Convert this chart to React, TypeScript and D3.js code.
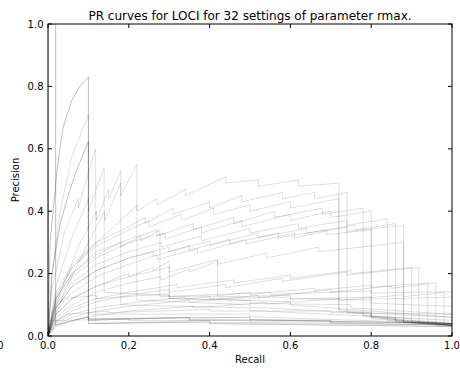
import React from "react";
import * as d3 from "d3";

type Pt = [number, number];

// ---- Tick labels ----
const xTicks = [0, 0.2, 0.4, 0.6, 0.8, 1.0];
const yTicks = [0, 0.2, 0.4, 0.6, 0.8, 1.0];

// ---- Curves with early drop (recall, precision) ----
const a1: Pt[] = [[0,0],[0,1],[0.019,1],[0.019,0.035],[0.1,0.062],[0.1,0.05],[0.35,0.06],[0.35,0.052],[0.7,0.05],[0.7,0.042],[1,0.035]];
const a2: Pt[] = [[0,0],[0.005,0.3],[0.023,0.54],[0.037,0.667],[0.059,0.756],[0.079,0.8],[0.1,0.83],[0.1,0.04],[0.4,0.045],[0.4,0.04],[1,0.03]];
const a3: Pt[] = [[0,0],[0.01,0.2],[0.03,0.4],[0.06,0.58],[0.1,0.71],[0.1,0.07],[0.5,0.07],[0.5,0.062],[1,0.04]];
const a4: Pt[] = [[0,0],[0.01,0.2],[0.03,0.36],[0.05,0.45],[0.07,0.53],[0.1,0.623],[0.1,0.055],[0.5,0.06],[0.5,0.052],[1,0.04]];
const a5: Pt[] = [[0,0],[0.01,0.15],[0.04,0.33],[0.075,0.44],[0.075,0.41],[0.118,0.6],[0.118,0.04],[0.4,0.05],[0.4,0.044],[1,0.035]];
const a6: Pt[] = [[0,0],[0.02,0.16],[0.06,0.32],[0.1,0.44],[0.1,0.4],[0.139,0.54],[0.139,0.14],[0.3,0.13],[0.3,0.12],[0.6,0.11],[0.6,0.1],[1,0.06]];
const a7: Pt[] = [[0,0],[0.03,0.14],[0.08,0.3],[0.12,0.4],[0.12,0.37],[0.15,0.47],[0.15,0.44],[0.18,0.53],[0.18,0.1],[0.5,0.09],[0.5,0.082],[1,0.05]];
const a8: Pt[] = [[0,0],[0.04,0.14],[0.1,0.3],[0.14,0.4],[0.14,0.37],[0.18,0.49],[0.18,0.45],[0.22,0.55],[0.22,0.115],[0.5,0.1],[0.5,0.092],[1,0.06]];

// ---- Curves with late drop ----
const r1: Pt[] = [[0,0],[0.02,0.12],[0.06,0.22],[0.12,0.3],[0.18,0.37],[0.22,0.42],[0.22,0.4],[0.27,0.44],[0.27,0.42],[0.34,0.47],[0.34,0.45],[0.44,0.51],[0.44,0.49],[0.52,0.5],[0.52,0.48],[0.62,0.5],[0.62,0.48],[0.72,0.49],[0.72,0.08],[0.78,0.075],[0.78,0.065],[0.86,0.06],[0.86,0.05],[0.93,0.045],[1,0.04]];
const r2: Pt[] = [[0,0],[0.02,0.13],[0.06,0.22],[0.12,0.29],[0.2,0.34],[0.25,0.37],[0.25,0.35],[0.33,0.39],[0.33,0.37],[0.41,0.41],[0.41,0.39],[0.5,0.42],[0.5,0.4],[0.6,0.43],[0.6,0.41],[0.72,0.44],[0.72,0.085],[0.8,0.075],[0.8,0.065],[0.9,0.055],[0.9,0.045],[1,0.04]];
const r3: Pt[] = [[0,0],[0.02,0.14],[0.06,0.23],[0.12,0.3],[0.2,0.35],[0.24,0.38],[0.24,0.36],[0.31,0.41],[0.31,0.39],[0.4,0.43],[0.4,0.41],[0.48,0.45],[0.48,0.43],[0.58,0.46],[0.58,0.44],[0.66,0.46],[0.66,0.44],[0.74,0.46],[0.74,0.075],[0.8,0.07],[0.8,0.06],[0.88,0.05],[0.88,0.045],[1,0.035]];
const r4: Pt[] = [[0,0],[0.02,0.12],[0.06,0.2],[0.12,0.27],[0.2,0.31],[0.27,0.34],[0.27,0.32],[0.36,0.36],[0.36,0.34],[0.46,0.38],[0.46,0.36],[0.56,0.4],[0.56,0.38],[0.68,0.41],[0.68,0.39],[0.78,0.41],[0.78,0.065],[0.86,0.055],[0.86,0.048],[0.94,0.042],[1,0.035]];
const r5: Pt[] = [[0,0],[0.02,0.11],[0.06,0.19],[0.12,0.25],[0.2,0.3],[0.29,0.33],[0.29,0.31],[0.38,0.35],[0.38,0.33],[0.48,0.37],[0.48,0.35],[0.6,0.39],[0.6,0.37],[0.7,0.4],[0.7,0.38],[0.8,0.4],[0.8,0.055],[0.88,0.05],[0.88,0.044],[0.95,0.04],[1,0.035]];
const r6: Pt[] = [[0,0],[0.02,0.09],[0.06,0.16],[0.12,0.21],[0.2,0.25],[0.26,0.27],[0.26,0.255],[0.35,0.29],[0.35,0.275],[0.45,0.31],[0.45,0.295],[0.57,0.33],[0.57,0.315],[0.69,0.34],[0.69,0.325],[0.8,0.34],[0.8,0.06],[0.9,0.05],[0.9,0.042],[1,0.035]];
const r7: Pt[] = [[0,0],[0.02,0.1],[0.06,0.17],[0.12,0.23],[0.2,0.27],[0.28,0.3],[0.28,0.285],[0.38,0.32],[0.38,0.305],[0.5,0.345],[0.5,0.33],[0.62,0.36],[0.62,0.345],[0.74,0.37],[0.74,0.355],[0.84,0.375],[0.84,0.05],[0.92,0.045],[0.92,0.04],[1,0.035]];
const r8: Pt[] = [[0,0],[0.02,0.09],[0.06,0.16],[0.12,0.21],[0.2,0.25],[0.3,0.285],[0.3,0.27],[0.4,0.305],[0.4,0.29],[0.52,0.33],[0.52,0.315],[0.64,0.345],[0.64,0.33],[0.76,0.355],[0.76,0.34],[0.86,0.36],[0.86,0.045],[0.93,0.04],[1,0.035]];
const r9: Pt[] = [[0,0],[0.02,0.08],[0.06,0.14],[0.12,0.19],[0.2,0.23],[0.27,0.26],[0.27,0.245],[0.37,0.28],[0.37,0.265],[0.49,0.31],[0.49,0.295],[0.61,0.33],[0.61,0.315],[0.74,0.35],[0.74,0.335],[0.88,0.355],[0.88,0.045],[0.94,0.04],[1,0.035]];
const r10: Pt[] = [[0,0],[0.02,0.07],[0.06,0.12],[0.12,0.16],[0.2,0.19],[0.3,0.22],[0.3,0.205],[0.42,0.245],[0.42,0.23],[0.54,0.265],[0.54,0.25],[0.67,0.285],[0.67,0.27],[0.88,0.3],[0.88,0.05],[0.95,0.045],[1,0.04]];
const r11: Pt[] = [[0,0],[0.02,0.05],[0.06,0.09],[0.12,0.12],[0.2,0.14],[0.32,0.165],[0.32,0.155],[0.46,0.18],[0.46,0.17],[0.6,0.195],[0.6,0.185],[0.75,0.21],[0.75,0.2],[0.9,0.22],[0.9,0.05],[0.96,0.045],[1,0.04]];
const r12: Pt[] = [[0,0],[0.02,0.045],[0.06,0.08],[0.12,0.11],[0.2,0.13],[0.3,0.15],[0.3,0.14],[0.44,0.165],[0.44,0.155],[0.58,0.185],[0.58,0.175],[0.74,0.205],[0.74,0.195],[0.918,0.22],[0.918,0.045],[1,0.04]];
const r13: Pt[] = [[0,0],[0.02,0.04],[0.06,0.07],[0.12,0.09],[0.2,0.105],[0.34,0.125],[0.34,0.118],[0.5,0.14],[0.5,0.133],[0.66,0.153],[0.66,0.146],[0.8,0.163],[0.8,0.156],[0.94,0.17],[0.94,0.04],[1,0.035]];
const r14: Pt[] = [[0,0],[0.02,0.035],[0.06,0.06],[0.12,0.08],[0.2,0.095],[0.35,0.115],[0.35,0.108],[0.52,0.13],[0.52,0.123],[0.7,0.148],[0.7,0.14],[0.85,0.16],[0.85,0.153],[0.96,0.17],[0.96,0.035],[1,0.03]];
const r15: Pt[] = [[0,0],[0.02,0.03],[0.06,0.05],[0.12,0.065],[0.2,0.08],[0.36,0.095],[0.36,0.09],[0.54,0.108],[0.54,0.102],[0.72,0.12],[0.72,0.114],[0.88,0.132],[0.88,0.126],[0.98,0.14],[0.98,0.035],[1,0.033]];

// ---- Curves with mid drop ----
const m1: Pt[] = [[0,0],[0.02,0.12],[0.06,0.2],[0.12,0.26],[0.18,0.3],[0.18,0.285],[0.23,0.32],[0.23,0.305],[0.277,0.34],[0.277,0.126],[0.4,0.128],[0.4,0.12],[0.6,0.125],[0.6,0.118],[0.8,0.125],[0.8,0.118],[1,0.125]];
const m2: Pt[] = [[0,0],[0.02,0.07],[0.06,0.12],[0.12,0.16],[0.2,0.2],[0.2,0.19],[0.26,0.22],[0.26,0.21],[0.3,0.24],[0.3,0.12],[0.5,0.115],[0.5,0.105],[0.75,0.1],[0.75,0.09],[1,0.07]];
const m3: Pt[] = [[0,0],[0.02,0.06],[0.06,0.1],[0.12,0.14],[0.2,0.17],[0.28,0.19],[0.28,0.18],[0.35,0.215],[0.35,0.205],[0.42,0.24],[0.42,0.126],[0.6,0.13],[0.6,0.12],[0.8,0.115],[0.8,0.105],[1,0.095]];

// ---- Near-flat curves ----
const f1: Pt[] = [[0,0],[0.01,0.08],[0.04,0.12],[0.12,0.13],[0.12,0.12],[0.3,0.135],[0.3,0.127],[0.55,0.14],[0.55,0.133],[0.8,0.145],[0.8,0.138],[1,0.142]];
const f2: Pt[] = [[0,0],[0.01,0.04],[0.05,0.07],[0.15,0.08],[0.15,0.075],[0.4,0.085],[0.4,0.08],[0.7,0.08],[0.7,0.075],[1,0.07]];
const f3: Pt[] = [[0,0],[0.005,0.05],[0.03,0.05],[0.2,0.055],[0.2,0.05],[0.5,0.05],[0.5,0.045],[0.8,0.045],[1,0.04]];

const curves: Pt[][] = [a1, a2, a3, a4, a5, a6, a7, a8, r1, r2, r3, r4, r5, r6, r7, r8, r9, r10, r11, r12, r13, r14, r15, m1, m2, m3, f1, f2, f3];
// number of rmax settings that produced each (identical) curve; sums to 32
const settingsPerCurve = [2, 2, 1, 2, 1, 1, 1, 1, 1, 1, 1, 1, 1, 1, 1, 1, 1, 1, 1, 1, 1, 1, 1, 1, 1, 1, 1, 1, 1];

const W = 460, H = 371;
const L = 48, R = 452, T = 24, B = 336;
const FONT = "DejaVu Sans, sans-serif";

export default function App() {
  const x = d3.scaleLinear().domain([0, 1]).range([L, R]);
  const y = d3.scaleLinear().domain([0, 1]).range([B, T]);
  const line = d3.line<Pt>().x(d => x(d[0])).y(d => y(d[1]));
  const fmt = d3.format(".1f");

  const paths: React.ReactNode[] = [];
  curves.forEach((c, i) => {
    for (let k = 0; k < settingsPerCurve[i]; k++) {
      paths.push(
        <path key={`${i}-${k}`} d={line(c) || ""} fill="none" stroke="#000" strokeOpacity={0.13} strokeWidth={1} />
      );
    }
  });

  return (
    <svg width={W} height={H} style={{ position: "absolute", left: 0, top: 0, background: "#fff" }} fontFamily={FONT}>
      <rect x={0} y={0} width={W} height={H} fill="#fff" />
      <defs>
        <clipPath id="plot"><rect x={L} y={T} width={R - L} height={B - T} /></clipPath>
      </defs>
      <g clipPath="url(#plot)">{paths}</g>
      {/* frame */}
      <rect x={L} y={T} width={R - L} height={B - T} fill="none" stroke="#000" strokeWidth={1} />
      {/* ticks */}
      {xTicks.map(t => (
        <g key={`xt${t}`}>
          <line x1={x(t)} x2={x(t)} y1={B} y2={B - 4} stroke="#000" />
          <line x1={x(t)} x2={x(t)} y1={T} y2={T + 4} stroke="#000" />
          <text x={x(t)} y={348.5} fontSize={10} textAnchor="middle">{fmt(t)}</text>
        </g>
      ))}
      {yTicks.map(t => (
        <g key={`yt${t}`}>
          <line x1={L} x2={L + 4} y1={y(t)} y2={y(t)} stroke="#000" />
          <line x1={R} x2={R - 4} y1={y(t)} y2={y(t)} stroke="#000" />
          <text x={43.5} y={y(t) + 3.5} fontSize={10} textAnchor="end">{fmt(t)}</text>
        </g>
      ))}
      <text x={3.5} y={348.5} fontSize={10} textAnchor="end">0.0</text>
      <text x={(L + R) / 2} y={19.5} fontSize={12} textAnchor="middle">PR curves for LOCI for 32 settings of parameter rmax.</text>
      <text x={(L + R) / 2} y={363} fontSize={10} textAnchor="middle">Recall</text>
      <text transform={`translate(19,${(T + B) / 2}) rotate(-90)`} fontSize={10} textAnchor="middle">Precision</text>
    </svg>
  );
}
